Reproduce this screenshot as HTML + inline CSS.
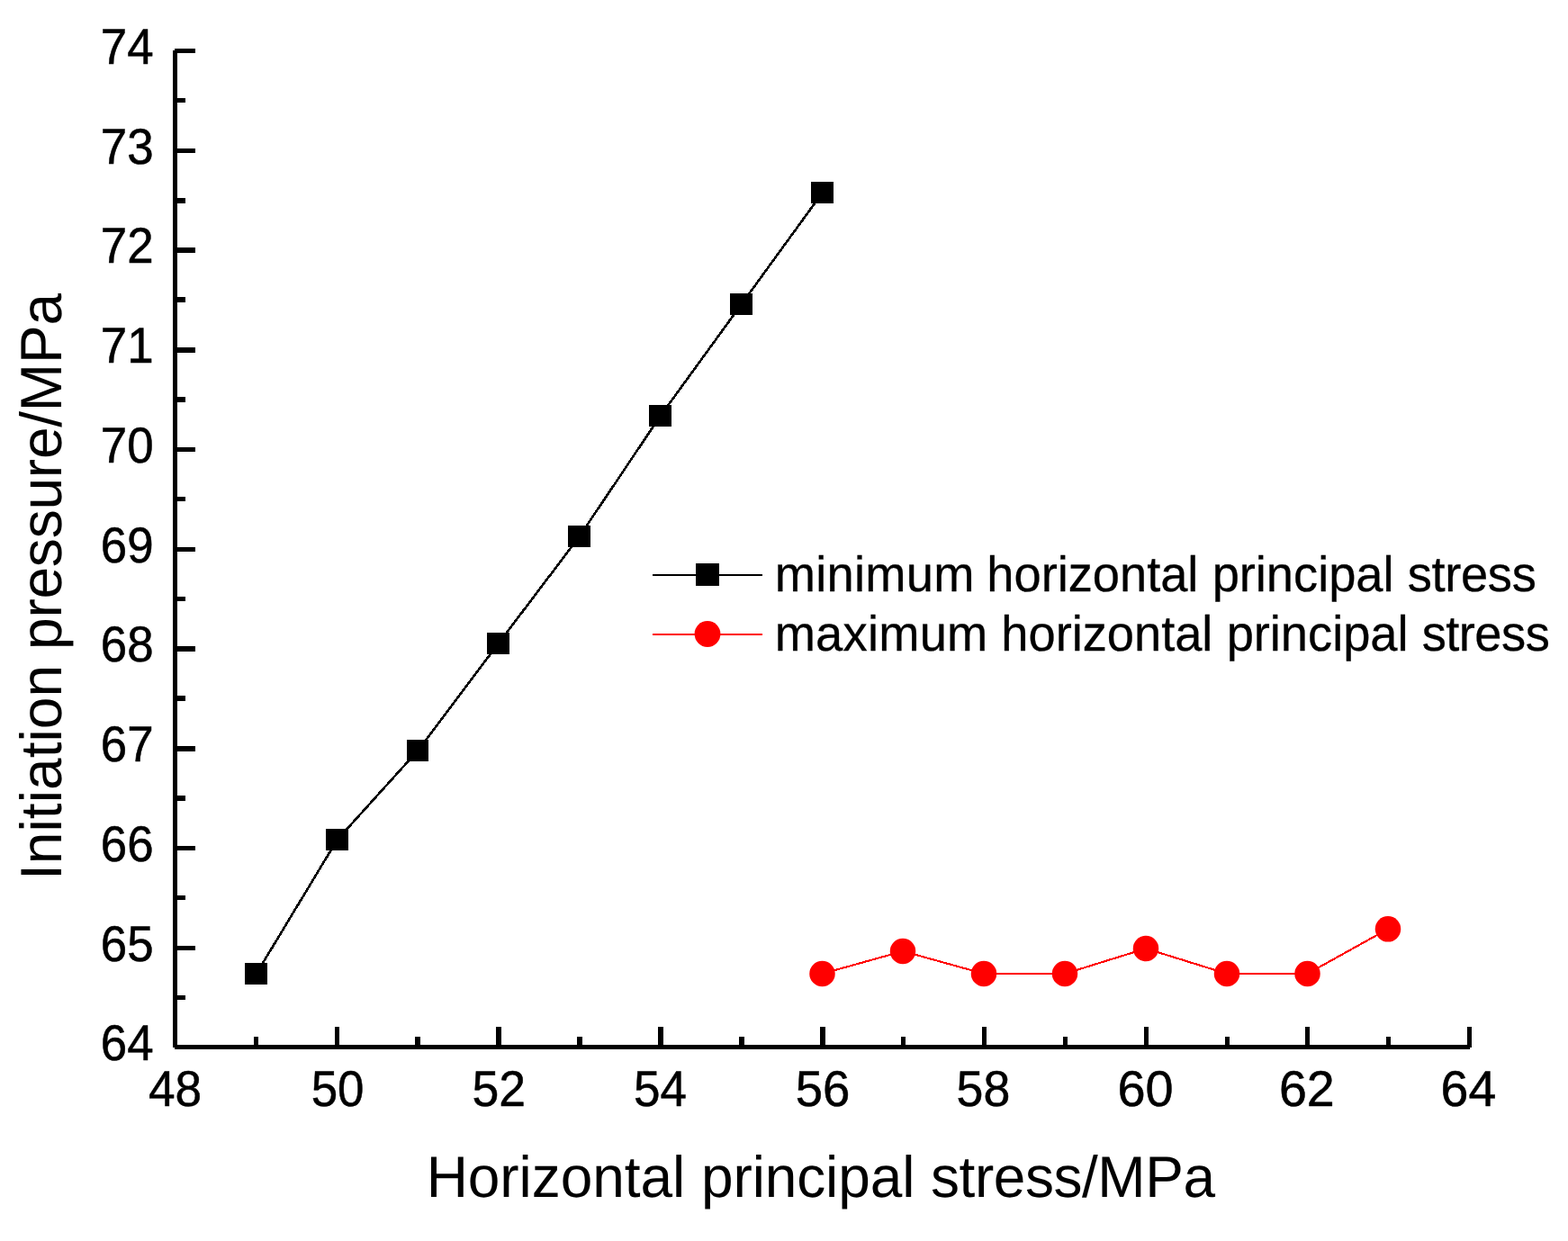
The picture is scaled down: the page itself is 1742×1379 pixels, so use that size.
<!DOCTYPE html>
<html lang="en"><head><meta charset="utf-8"><title>Initiation pressure vs horizontal principal stress</title>
<style>
html,body{margin:0;padding:0;background:#fff;}
body{width:1742px;height:1379px;overflow:hidden;}
svg{display:block;}
text{font-family:"Liberation Sans",Arial,Helvetica,sans-serif;fill:#000;text-rendering:geometricPrecision;}
.tk{font-size:54.2px;stroke:#000;stroke-width:0.5px;}
.ti{font-size:64px;}
.lg{font-size:54.3px;stroke:#000;stroke-width:0.3px;}
</style></head><body>
<svg width="1742" height="1379" viewBox="0 0 1742 1379">
<rect x="0" y="0" width="1742" height="1379" fill="#fff"/>
<g fill="#000" shape-rendering="crispEdges">
<rect x="192" y="54" width="5" height="1112"/>
<rect x="192" y="1161" width="1443" height="5"/>
<rect x="192" y="54" width="25" height="5"/>
<rect x="192" y="109" width="14" height="5"/>
<rect x="192" y="165" width="25" height="5"/>
<rect x="192" y="220" width="14" height="6"/>
<rect x="192" y="275" width="25" height="6"/>
<rect x="192" y="330" width="14" height="6"/>
<rect x="192" y="386" width="25" height="6"/>
<rect x="192" y="441" width="14" height="6"/>
<rect x="192" y="497" width="25" height="5"/>
<rect x="192" y="552" width="14" height="5"/>
<rect x="192" y="608" width="25" height="5"/>
<rect x="192" y="663" width="14" height="5"/>
<rect x="192" y="718" width="25" height="6"/>
<rect x="192" y="773" width="14" height="6"/>
<rect x="192" y="829" width="25" height="6"/>
<rect x="192" y="884" width="14" height="6"/>
<rect x="192" y="940" width="25" height="5"/>
<rect x="192" y="995" width="14" height="5"/>
<rect x="192" y="1051" width="25" height="5"/>
<rect x="192" y="1106" width="14" height="5"/>
<rect x="282" y="1152" width="5" height="14"/>
<rect x="372" y="1141" width="5" height="25"/>
<rect x="461" y="1152" width="6" height="14"/>
<rect x="551" y="1141" width="6" height="25"/>
<rect x="641" y="1152" width="6" height="14"/>
<rect x="731" y="1141" width="6" height="25"/>
<rect x="821" y="1152" width="6" height="14"/>
<rect x="911" y="1141" width="6" height="25"/>
<rect x="1001" y="1152" width="5" height="14"/>
<rect x="1091" y="1141" width="5" height="25"/>
<rect x="1181" y="1152" width="5" height="14"/>
<rect x="1271" y="1141" width="5" height="25"/>
<rect x="1361" y="1152" width="5" height="14"/>
<rect x="1450" y="1141" width="5" height="25"/>
<rect x="1540" y="1152" width="5" height="14"/>
<rect x="1630" y="1141" width="5" height="25"/>
</g>
<g fill="#fff" shape-rendering="crispEdges">
<rect x="192" y="54" width="2" height="2"/>
<rect x="192" y="1164" width="2" height="2"/>
<rect x="1633" y="1164" width="2" height="2"/>
</g>
<g class="tk">
<text transform="translate(170.70 1177.80) scale(0.976 1.032)" text-anchor="end">64</text>
<text transform="translate(170.70 1067.80) scale(0.976 1.032)" text-anchor="end">65</text>
<text transform="translate(170.70 956.80) scale(0.976 1.032)" text-anchor="end">66</text>
<text transform="translate(170.70 846.30) scale(0.976 1.032)" text-anchor="end">67</text>
<text transform="translate(170.70 735.30) scale(0.976 1.032)" text-anchor="end">68</text>
<text transform="translate(170.70 624.80) scale(0.976 1.032)" text-anchor="end">69</text>
<text transform="translate(170.70 513.80) scale(0.976 1.032)" text-anchor="end">70</text>
<text transform="translate(170.70 403.30) scale(0.976 1.032)" text-anchor="end">71</text>
<text transform="translate(170.70 292.30) scale(0.976 1.032)" text-anchor="end">72</text>
<text transform="translate(170.70 181.80) scale(0.976 1.032)" text-anchor="end">73</text>
<text transform="translate(170.70 70.80) scale(0.976 1.032)" text-anchor="end">74</text>
<text transform="translate(165.02 1228.8) scale(0.9820 1.032)">48</text>
<text transform="translate(345.65 1228.8) scale(0.9763 1.032)">50</text>
<text transform="translate(524.42 1228.8) scale(0.9880 1.032)">52</text>
<text transform="translate(704.04 1228.8) scale(0.9789 1.032)">54</text>
<text transform="translate(883.79 1228.8) scale(1.0054 1.032)">56</text>
<text transform="translate(1062.62 1228.8) scale(0.9905 1.032)">58</text>
<text transform="translate(1241.45 1228.8) scale(1.0311 1.032)">60</text>
<text transform="translate(1420.97 1228.8) scale(1.0255 1.032)">62</text>
<text transform="translate(1600.57 1228.8) scale(1.0225 1.032)">64</text>
</g>
<text class="ti" transform="translate(0 1330) scale(1 1.012)"><tspan x="473.67" style="letter-spacing:-0.074px">Horizontal</tspan> <tspan x="779.00" style="letter-spacing:-0.125px">principal</tspan> <tspan x="1034.00" style="letter-spacing:-0.444px">stress/MPa</tspan></text>
<text class="ti" transform="translate(68 0) rotate(-90) scale(1 1.012)"><tspan x="-978.00" style="letter-spacing:0.074px">Initiation</tspan> <tspan x="-722.00" style="letter-spacing:-0.212px">pressure/MPa</tspan></text>
<g fill="none" stroke="#000" shape-rendering="crispEdges">
<line x1="284.8" y1="1082" x2="374.8" y2="933" stroke-width="2.6"/>
<line x1="374.8" y1="933" x2="464.3" y2="834" stroke-width="2.6"/>
<line x1="464.3" y1="834" x2="553.8" y2="715" stroke-width="2.6"/>
<line x1="553.8" y1="715" x2="643.8" y2="596" stroke-width="2.6"/>
<line x1="643.8" y1="596" x2="733.8" y2="462" stroke-width="2.6"/>
<line x1="733.8" y1="462" x2="823.8" y2="338" stroke-width="2.6"/>
<line x1="823.8" y1="338" x2="913.8" y2="214" stroke-width="2.6"/>
</g>
<g fill="#000" shape-rendering="crispEdges">
<rect x="272" y="1070" width="25" height="24"/>
<rect x="362" y="921" width="25" height="24"/>
<rect x="452" y="822" width="24" height="24"/>
<rect x="541" y="703" width="25" height="24"/>
<rect x="631" y="584" width="25" height="24"/>
<rect x="721" y="450" width="25" height="24"/>
<rect x="811" y="326" width="25" height="24"/>
<rect x="901" y="202" width="25" height="24"/>
</g>
<g fill="none" stroke="#f00" shape-rendering="crispEdges">
<line x1="913.5" y1="1082" x2="1003" y2="1057" stroke-width="2.1"/>
<line x1="1003" y1="1057" x2="1093" y2="1082" stroke-width="2.1"/>
<line x1="1093" y1="1082" x2="1183" y2="1082" stroke-width="2"/>
<line x1="1183" y1="1082" x2="1273" y2="1054" stroke-width="2.1"/>
<line x1="1273" y1="1054" x2="1363" y2="1082" stroke-width="2.1"/>
<line x1="1363" y1="1082" x2="1452.5" y2="1082" stroke-width="2"/>
<line x1="1452.5" y1="1082" x2="1542" y2="1032.3" stroke-width="2.1"/>
</g>
<g fill="#f00">
<circle cx="913.5" cy="1082" r="14.25"/>
<circle cx="1003" cy="1057" r="14.25"/>
<circle cx="1093" cy="1082" r="14.25"/>
<circle cx="1183" cy="1082" r="14.25"/>
<circle cx="1273" cy="1054" r="14.25"/>
<circle cx="1363" cy="1082" r="14.25"/>
<circle cx="1452.5" cy="1082" r="14.25"/>
<circle cx="1542" cy="1032.3" r="14.25"/>
</g>
<rect x="725" y="637.5" width="122" height="2" fill="#000" shape-rendering="crispEdges"/>
<rect x="773" y="626" width="26" height="25" fill="#000" shape-rendering="crispEdges"/>
<rect x="725" y="704" width="122" height="2" fill="#f00" shape-rendering="crispEdges"/>
<circle cx="786" cy="704.5" r="14.4" fill="#f00"/>
<g class="lg">
<text transform="translate(0 657) scale(1 1.02)"><tspan x="860.67" style="letter-spacing:0.278px">minimum</tspan> <tspan x="1096.33" style="letter-spacing:-0.037px">horizontal</tspan> <tspan x="1346.67" style="letter-spacing:-0.042px">principal</tspan> <tspan x="1563.67" style="letter-spacing:-0.333px">stress</tspan></text>
<text transform="translate(0 723) scale(1 1.02)"><tspan x="860.67" style="letter-spacing:0.222px">maximum</tspan> <tspan x="1112.33" style="letter-spacing:-0.037px">horizontal</tspan> <tspan x="1362.67" style="letter-spacing:-0.042px">principal</tspan> <tspan x="1579.67" style="letter-spacing:-0.533px">stress</tspan></text>
</g>
</svg>
</body></html>
